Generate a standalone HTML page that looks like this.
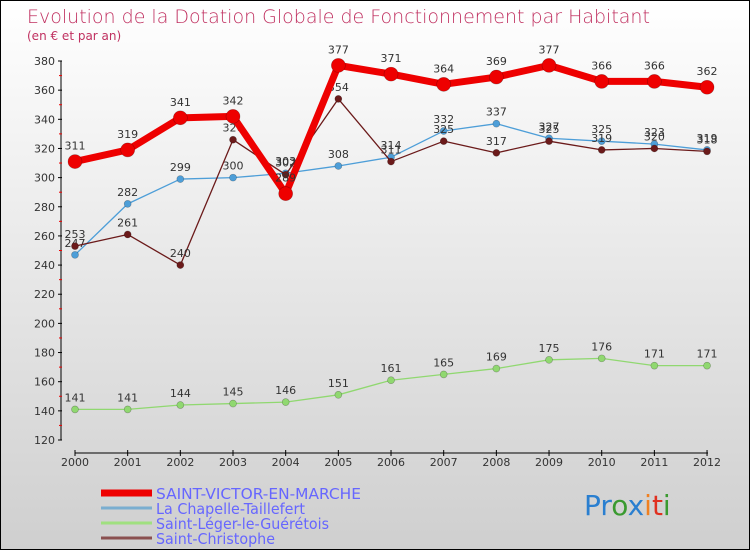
<!DOCTYPE html>
<html><head><meta charset="utf-8"><style>
body{margin:0}
#c{width:748px;height:548px;border:1px solid #000;background:linear-gradient(#ffffff,#cfcfcf);position:relative;font-family:"DejaVu Sans","Liberation Sans",sans-serif;overflow:hidden}
</style></head><body>
<div id="c">
<svg id="s" width="748" height="548"></svg>
</div>
<script>
const years=[2000,2001,2002,2003,2004,2005,2006,2007,2008,2009,2010,2011,2012];
const svValues=[311,319,341,342,289,377,371,364,369,377,366,366,362];
const chapelleValues=[247,282,299,300,303,308,314,332,337,327,325,323,319];
const legerValues=[141,141,144,145,146,151,161,165,169,175,176,171,171];
const christopheValues=[253,261,240,326,302,354,311,325,317,325,319,320,318];
const yTicks=[120,140,160,180,200,220,240,260,280,300,320,340,360,380];
const NS='http://www.w3.org/2000/svg';
const s=document.getElementById('s');
function X(i){return 74+i*52.67;}
function Y(v){return 439-(v-120)*(379/260);}
function el(t,a,p){const e=document.createElementNS(NS,t);for(const k in a)e.setAttribute(k,a[k]);(p||s).appendChild(e);return e;}
function txt(x,y,str,a){const e=el('text',Object.assign({x:x,y:y},a));e.textContent=str;return e;}
let t=txt(26,22,'Evolution de la Dotation Globale de Fonctionnement par Habitant',{'font-size':19,fill:'#c03060','font-family':'DejaVu Sans, sans-serif','font-weight':'200'});

t=txt(26,39,'(en € et par an)',{'font-size':12,fill:'#c03060'});

let ax=el('line',{x1:60,y1:60,x2:60,y2:439,stroke:'#000'});

ax=el('line',{x1:74,y1:452,x2:707,y2:452,stroke:'#000'});

yTicks.forEach((v,i)=>{
  el('line',{x1:57,y1:Y(v),x2:61,y2:Y(v),stroke:'#000'});
  if(i<yTicks.length-1)el('line',{x1:58,y1:Y(v+10),x2:61,y2:Y(v+10),stroke:'#e00'});
  const l=txt(54,Y(v)+4,v,{'font-size':11,fill:'#333','text-anchor':'end'});
  
});
years.forEach((y,i)=>{
  el('line',{x1:X(i),y1:449,x2:X(i),y2:455,stroke:'#000'});
  const l=txt(X(i),465,y,{'font-size':11,fill:'#333','text-anchor':'middle'});
  
});
function series(vals,color,w,r,name,labelDy){
  const g=el('g',{});
  
  el('polyline',{points:vals.map((v,i)=>X(i)+','+Y(v)).join(' '),fill:'none',stroke:color,'stroke-width':w,'stroke-linejoin':'round'},g);
  vals.forEach((v,i)=>{
    const c=el('circle',{cx:X(i),cy:Y(v),r:r,fill:color,stroke:'rgba(0,0,0,0.3)','stroke-width':0.6},g);
    
    const l=txt(X(i),Y(v)-labelDy,v,{'font-size':11,fill:'#333','text-anchor':'middle'},g);
    
  });
}
series(legerValues,'#90d870',1.3,3.5,'series-saint-leger',8);
series(chapelleValues,'#4d9ed8',1.3,3.5,'series-la-chapelle',8);
series(christopheValues,'#6b1a1a',1.3,3.5,'series-saint-christophe',8);
series(svValues,'#ee0000',7,7,'series-saint-victor',12);
const leg=[['SAINT-VICTOR-EN-MARCHE','#ee0000',7,205],['La Chapelle-Taillefert','#7aaed0',3,149],['Saint-Léger-le-Guérétois','#a0e080',3,173],['Saint-Christophe','#8a5050',3,119]];
leg.forEach((d,i)=>{
  const g=el('g',{});
  
  const y=492+i*15;
  el('line',{x1:100,y1:y,x2:151,y2:y,stroke:d[1],'stroke-width':d[2]},g);
  txt(155,y+6,d[0],{'font-size':15,fill:'#6666ff',textLength:d[3],lengthAdjust:'spacingAndGlyphs'},g);
});
const lg=el('text',{x:583,y:514,'font-size':28,'font-family':'DejaVu Sans, sans-serif'});

[['Pr','#2a7fd0'],['o','#3a9a30'],['x','#2a7fd0'],['i','#f08020'],['t','#e03020'],['i','#3a9a30']].forEach(p=>{const ts=el('tspan',{fill:p[1]},lg);ts.textContent=p[0];});
</script>
</body></html>
